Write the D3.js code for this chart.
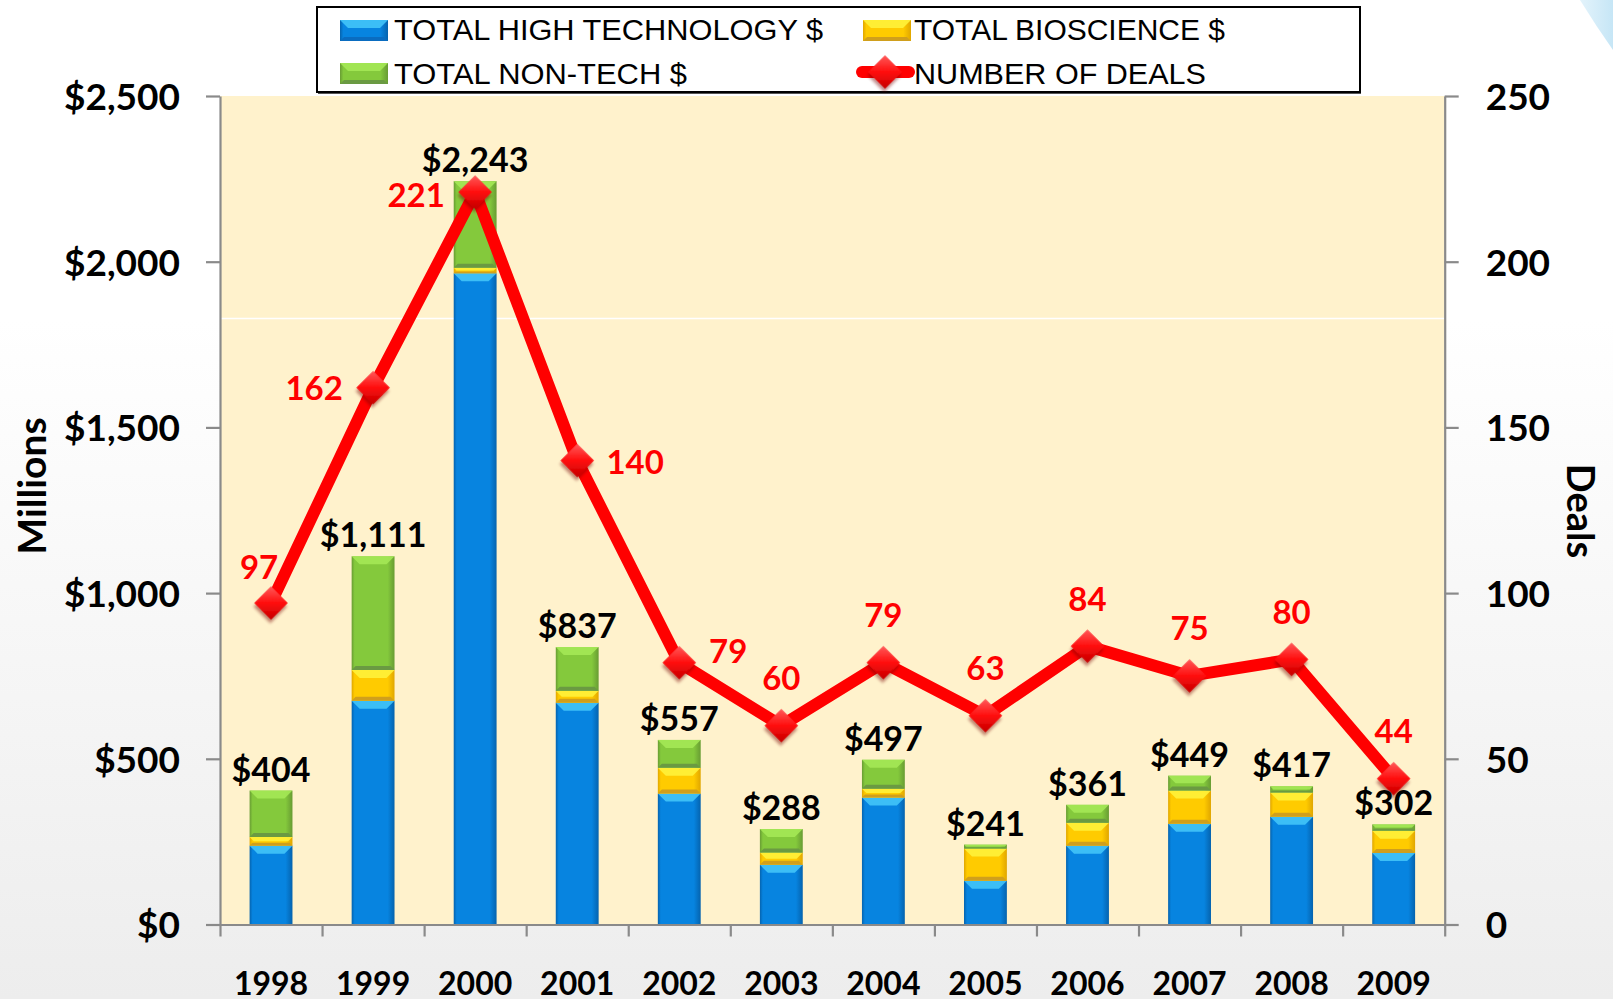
<!DOCTYPE html>
<html>
<head>
<meta charset="utf-8">
<script src="https://cdn.jsdelivr.net/npm/d3@7"></script>
<style>
html, body { margin: 0; padding: 0; background: #fff; overflow: hidden; }
svg { display: block; }
</style>
</head>
<body>
<svg id="chart" width="1613" height="999"></svg>
<script>
var years = ["1998", "1999", "2000", "2001", "2002", "2003", "2004", "2005", "2006", "2007", "2008", "2009"];
var highTech   = [238, 675, 1965, 669, 395, 180, 383, 132, 238, 304, 325, 216];
var bioscience = [26, 93, 17, 36, 78, 37, 27, 97, 69, 100, 73, 67];
var nonTech    = [140, 343, 261, 132, 84, 71, 87, 12, 54, 45, 19, 19];
var deals      = [97, 162, 221, 140, 79, 60, 79, 63, 84, 75, 80, 44];
var seriesNames = ["TOTAL HIGH TECHNOLOGY $", "TOTAL BIOSCIENCE $", "TOTAL NON-TECH $", "NUMBER OF DEALS"];
var leftTicks  = [0, 500, 1000, 1500, 2000, 2500];
var rightTicks = [0, 50, 100, 150, 200, 250];

// where each deal label sits relative to its marker (label centre offset)
var dealLabelOffsets = [[-12, -36], [-59, 1], [-59, 3], [58, 2], [49, -11], [0, -47],
                        [0, -47], [0, -47], [0, -47], [0, -47], [0, -47], [0, -47]];

var svg = d3.select("#chart"),
  W = +svg.attr("width"), H = +svg.attr("height"),
  margin = { top: 96, right: 168.3, bottom: 74.5, left: 220 },
  width = W - margin.left - margin.right,
  height = H - margin.top - margin.bottom;

var defs = svg.append("defs");

// page background
var bg = defs.append("linearGradient").attr("id", "bg").attr("x1", 0).attr("y1", 0).attr("x2", 0).attr("y2", 1);
bg.append("stop").attr("offset", 0).attr("stop-color", "#ffffff");
bg.append("stop").attr("offset", 0.32).attr("stop-color", "#ffffff");
bg.append("stop").attr("offset", 1).attr("stop-color", "#ededed");
svg.append("rect").attr("width", W).attr("height", H).attr("fill", "url(#bg)");

var corner = defs.append("linearGradient").attr("id", "corner").attr("x1", 0).attr("y1", 0).attr("x2", 1).attr("y2", 0);
corner.append("stop").attr("offset", 0).attr("stop-color", "#e3f3fb");
corner.append("stop").attr("offset", 1).attr("stop-color", "#c6e6f6");
svg.append("path")
  .attr("d", "M1580,0 Q1596,26 1613,50 L1613,0 Z")
  .attr("fill", "url(#corner)");

var segStyle = {
  ht:  { base: "#0784e0", edge: "#0563ae", light: "#42c4f8", dark: "#0a6cc0" },
  bio: { base: "#ffcb00", edge: "#e0a600", light: "#fff23a", dark: "#d09f1c" },
  nt:  { base: "#84c93c", edge: "#689c33", light: "#a4e855", dark: "#6a9a42" }
};
Object.keys(segStyle).forEach(function(k) {
  var s = segStyle[k];
  var gr = defs.append("linearGradient").attr("id", "h-" + k).attr("x1", 0).attr("y1", 0).attr("x2", 1).attr("y2", 0);
  gr.append("stop").attr("offset", 0).attr("stop-color", s.edge);
  gr.append("stop").attr("offset", 0.07).attr("stop-color", s.base);
  gr.append("stop").attr("offset", 0.84).attr("stop-color", s.base);
  gr.append("stop").attr("offset", 1).attr("stop-color", s.edge);
});

var mg = defs.append("linearGradient").attr("id", "marker").attr("x1", 0).attr("y1", 0).attr("x2", 1).attr("y2", 1);
mg.append("stop").attr("offset", 0).attr("stop-color", "#ff5a5a");
mg.append("stop").attr("offset", 0.5).attr("stop-color", "#ff0d0d");
mg.append("stop").attr("offset", 1).attr("stop-color", "#c40000");
var shadow = defs.append("filter").attr("id", "shadow").attr("x", "-50%").attr("y", "-50%").attr("width", "200%").attr("height", "200%");
shadow.append("feDropShadow").attr("dx", 2).attr("dy", 3).attr("stdDeviation", 1.5)
  .attr("flood-color", "#700").attr("flood-opacity", 0.45);

// one beveled bar piece
function drawSegment(sel, key, x0, top, w, h, bottomBevel) {
  var s = segStyle[key];
  if (h <= 0) { return; }
  sel.append("rect").attr("x", x0).attr("y", top).attr("width", w).attr("height", h)
    .attr("fill", "url(#h-" + key + ")");
  var b = Math.min(8, h / 2);
  sel.append("path")
    .attr("d", "M" + x0 + "," + top + "L" + (x0 + w) + "," + top +
      "L" + (x0 + w - b) + "," + (top + b) + "L" + (x0 + b) + "," + (top + b) + "Z")
    .attr("fill", s.light).attr("opacity", 0.9);
  if (bottomBevel) {
    var bd = Math.min(4, h / 3);
    sel.append("path")
      .attr("d", "M" + x0 + "," + (top + h) + "L" + (x0 + w) + "," + (top + h) +
        "L" + (x0 + w - bd) + "," + (top + h - bd) + "L" + (x0 + bd) + "," + (top + h - bd) + "Z")
      .attr("fill", s.dark);
  }
}

var g = svg.append("g").attr("transform", "translate(" + margin.left + "," + margin.top + ")");

g.append("rect").attr("width", width).attr("height", height).attr("fill", "#fff2cc");
g.append("line").attr("x1", 0).attr("x2", width).attr("y1", 222.5).attr("y2", 222.5)
  .attr("stroke", "#ffffff").attr("stroke-width", 1.5);

var x = d3.scaleBand().domain(years).range([0, width]).paddingInner(0.58).paddingOuter(0.29);
var xb = d3.scaleLinear().domain([0, years.length]).range([0, width]);
var y = d3.scaleLinear().domain([0, 2500]).range([height, 0]);
var y2 = d3.scaleLinear().domain([0, 250]).range([height, 0]);

var rows = years.map(function(yr, i) {
  return { year: yr, ht: highTech[i], bio: bioscience[i], nt: nonTech[i] };
});
var stacked = d3.stack().keys(["ht", "bio", "nt"])(rows);

var bars = g.append("g");
stacked.forEach(function(layer) {
  layer.forEach(function(d) {
    var top = y(d[1]), bot = y(d[0]);
    drawSegment(bars, layer.key, x(d.data.year), top, x.bandwidth(), bot - top, layer.key !== "ht");
  });
});

// axes
var axisColor = "#8a8a8a";
var gx = g.append("g").attr("transform", "translate(0," + height + ")")
  .call(d3.axisBottom(xb).tickValues(d3.range(years.length + 1)).tickSize(12).tickSizeOuter(0).tickFormat(""));
var gl = g.append("g")
  .call(d3.axisLeft(y).tickValues(leftTicks).tickSize(14).tickSizeOuter(0).tickPadding(26)
    .tickFormat(function(d) { return "$" + d3.format(",")(d); }));
var gr = g.append("g").attr("transform", "translate(" + width + ",0)")
  .call(d3.axisRight(y2).tickValues(rightTicks).tickSize(14).tickSizeOuter(0).tickPadding(27));
[gx, gl, gr].forEach(function(a) {
  a.selectAll("path, line").attr("stroke", axisColor).attr("stroke-width", 2.2);
  a.selectAll("text").attr("font-family", "Lato, sans-serif").attr("font-weight", "bold")
    .attr("font-size", 37).attr("fill", "#000").attr("dy", "0.36em");
});

var gy = g.append("g").attr("transform", "translate(0," + height + ")")
  .call(d3.axisBottom(x).tickSize(0));
gy.select(".domain").remove();
gy.selectAll("text").attr("font-family", "Lato, sans-serif").attr("font-weight", "bold")
  .attr("font-size", 32).attr("fill", "#000").attr("y", 70.5).attr("dy", null);

// axis titles
svg.append("text").attr("transform", "translate(46," + 486 + ") rotate(-90)")
  .attr("text-anchor", "middle").attr("font-family", "Lato, sans-serif").attr("font-weight", "bold")
  .attr("font-size", 39).text("Millions");
svg.append("text").attr("transform", "translate(1567," + 511 + ") rotate(90)")
  .attr("text-anchor", "middle").attr("font-family", "Lato, sans-serif").attr("font-weight", "bold")
  .attr("font-size", 38).text("Deals");

// deals line
var cx = function(i) { return x(years[i]) + x.bandwidth() / 2; };
var line = d3.line().x(function(d, i) { return cx(i); }).y(function(d) { return y2(d); });
g.append("path").attr("d", line(deals)).attr("fill", "none").attr("stroke", "#ff0000")
  .attr("stroke-width", 12).attr("stroke-linejoin", "round").attr("stroke-linecap", "round");

var diamond = d3.symbol().type(d3.symbolSquare).size(560);
g.append("g").selectAll("path").data(deals).enter().append("path")
  .attr("d", diamond)
  .attr("transform", function(d, i) { return "translate(" + cx(i) + "," + y2(d) + ") rotate(45)"; })
  .attr("fill", "url(#marker)").attr("filter", "url(#shadow)");

// total labels
g.append("g").selectAll("text").data(rows).enter().append("text")
  .attr("x", function(d) { return x(d.year) + x.bandwidth() / 2; })
  .attr("y", function(d) { return y(d.ht + d.bio + d.nt) - 9; })
  .attr("text-anchor", "middle").attr("font-family", "Lato, sans-serif").attr("font-weight", "bold")
  .attr("font-size", 34).attr("fill", "#000")
  .text(function(d) { return "$" + d3.format(",")(d.ht + d.bio + d.nt); });

// deal labels
g.append("g").selectAll("text").data(deals).enter().append("text")
  .attr("x", function(d, i) { return cx(i) + dealLabelOffsets[i][0]; })
  .attr("y", function(d, i) { return y2(d) + dealLabelOffsets[i][1] + 11.5; })
  .attr("text-anchor", "middle").attr("font-family", "Lato, sans-serif").attr("font-weight", "bold")
  .attr("font-size", 33).attr("fill", "#ff0000")
  .text(function(d) { return d; });

// legend
var legend = svg.append("g");
legend.append("rect").attr("x", 318).attr("y", 9).attr("width", 1043).attr("height", 85).attr("fill", "#555");
legend.append("rect").attr("x", 317).attr("y", 7).attr("width", 1043).attr("height", 85)
  .attr("fill", "#fff").attr("stroke", "#000").attr("stroke-width", 2);

var legendItems = [
  { key: "ht",  name: seriesNames[0], sx: 340, sy: 20, tx: 394, ty: 40,   len: 429 },
  { key: "bio", name: seriesNames[1], sx: 863, sy: 20, tx: 914, ty: 40,   len: 311 },
  { key: "nt",  name: seriesNames[2], sx: 340, sy: 63, tx: 394, ty: 83.5, len: 293 },
  { key: "deals", name: seriesNames[3], sx: 857, sy: 63, tx: 914, ty: 83.5, len: 292 }
];
legendItems.forEach(function(it) {
  if (it.key === "deals") {
    legend.append("line").attr("x1", it.sx + 5).attr("x2", it.sx + 52).attr("y1", it.sy + 9).attr("y2", it.sy + 9)
      .attr("stroke", "#ff0000").attr("stroke-width", 12).attr("stroke-linecap", "round");
    legend.append("path").attr("d", diamond)
      .attr("transform", "translate(" + (it.sx + 28) + "," + (it.sy + 9) + ") rotate(45)")
      .attr("fill", "url(#marker)").attr("filter", "url(#shadow)");
  } else {
    drawSegment(legend, it.key, it.sx, it.sy, 48, 21, true);
  }
  legend.append("text").attr("x", it.tx).attr("y", it.ty)
    .attr("font-family", "'Liberation Sans Narrow', 'Liberation Sans', Arial, sans-serif").attr("font-size", 30)
    .attr("textLength", it.len).attr("lengthAdjust", "spacingAndGlyphs")
    .attr("fill", "#000").text(it.name);
});
</script>
</body>
</html>
